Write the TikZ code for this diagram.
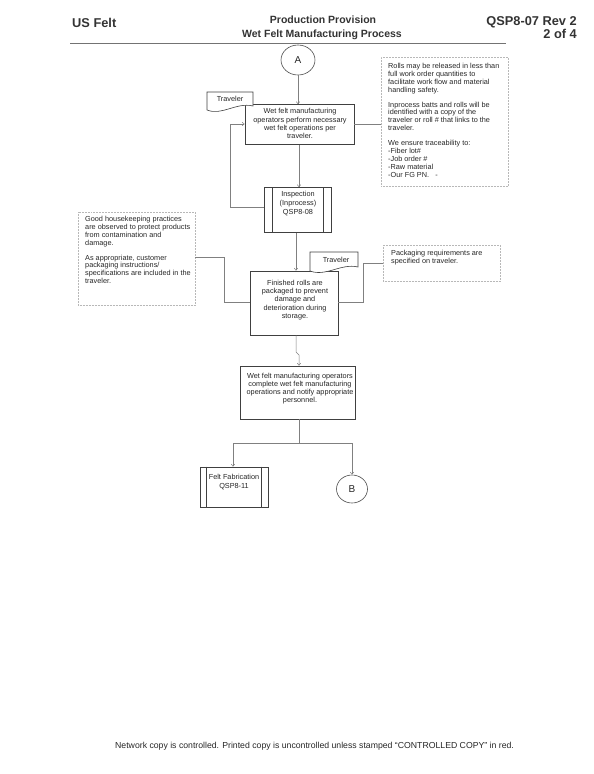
\documentclass[tikz,border=0pt]{standalone}
\usepackage{fontspec}
\setmainfont{Liberation Sans}
\usetikzlibrary{shapes.geometric,arrows.meta,calc}
\begin{document}
\tikzset{
  box/.style={draw=black!75, line width=0.6pt, fill=white, inner sep=0pt},
  conn/.style={draw=black!50, line width=0.5pt},
  arr/.style={conn, -{Straight Barb[length=2.2pt,width=3.6pt]}},
  note/.style={draw=black!28, densely dotted, line width=0.5pt, inner sep=0pt},
  btxt/.style={font=\fontsize{7.3}{8.2}\selectfont, align=center, text=black!85, inner sep=0pt},
  ntxt/.style={font=\fontsize{7.3}{7.9}\selectfont, align=left, text=black!85, inner sep=0pt, anchor=north west},
  circ/.style={ellipse, draw=black!70, line width=0.6pt, inner sep=0pt, font=\fontsize{10}{12}\selectfont, text=black!85},
  docshape/.style={draw=black!75, line width=0.6pt, fill=white},
  hdr/.style={font=\fontsize{10.5}{12}\selectfont\bfseries, text=black!80, inner sep=0pt},
  hdrbig/.style={font=\fontsize{12.8}{14}\selectfont\bfseries, text=black!80, inner sep=0pt},
}
\begin{tikzpicture}[x=1pt,y=-1pt]
\useasboundingbox (0,0) rectangle (594,774);
% header
\node[hdrbig, anchor=base west] (hdrL) at (72,27) {US Felt};
\node[hdr, anchor=base] (hdrC1) at (323,23) {Production Provision};
\node[hdr, anchor=base] (hdrC2) at (322,37) {Wet Felt Manufacturing Process};
\node[hdrbig, anchor=base east] (hdrR1) at (577,25) {QSP8-07 Rev 2};
\node[hdrbig, anchor=base east] (hdrR2) at (577,38) {2 of 4};
\coordinate (ruleL) at (70,43.5);
\coordinate (ruleR) at (506,43.5);
\draw[black!55, line width=1.3pt] (ruleL) -- (ruleR);

% flow nodes
\node[circ, minimum width=34pt, minimum height=30pt] (A) at (298,60) {A};
\node[box, minimum width=109pt, minimum height=40pt] (box1) at (299.5,124.5) {};
\node[btxt] (box1t) at (300,123.5) {Wet felt manufacturing\\operators perform necessary\\wet felt operations per\\traveler.};
\draw[docshape] (207,92) -- (253,92) -- (253,106) .. controls (236,102) and (222,116) .. (207,110) -- cycle;
\node[btxt] (trav1) at (230,99) {Traveler};

\node[box, minimum width=67pt, minimum height=45pt] (insp) at (297.5,210) {};
\draw[box] ([xshift=9pt]insp.north west) -- ([xshift=9pt]insp.south west);
\draw[box] ([xshift=-8pt]insp.north east) -- ([xshift=-8pt]insp.south east);
\node[btxt, font=\fontsize{7.3}{9}\selectfont] (inspt) at (298,204) {Inspection\\(Inprocess)\\QSP8-08};

\node[box, minimum width=88pt, minimum height=64pt] (pack) at (294,303) {};
\node[btxt] (packt) at (295,300) {Finished rolls are\\packaged to prevent\\damage and\\deterioration during\\storage.};
\draw[docshape] (310,252) -- (358,252) -- (358,267) .. controls (341,263) and (326,277) .. (310,271) -- cycle;
\node[btxt] (trav2) at (336,260) {Traveler};

\node[box, minimum width=115pt, minimum height=53pt] (box3) at (297.5,392.5) {};
\node[btxt] (box3t) at (300,388.5) {Wet felt manufacturing operators\\complete wet felt manufacturing\\operations and notify appropriate\\personnel.};

\node[box, minimum width=68pt, minimum height=40pt] (fab) at (234,487) {};
\draw[box] ([xshift=7pt]fab.north west) -- ([xshift=7pt]fab.south west);
\draw[box] ([xshift=-7pt]fab.north east) -- ([xshift=-7pt]fab.south east);
\node[btxt, font=\fontsize{7.3}{9}\selectfont] (fabt) at (234,482.5) {Felt Fabrication\\QSP8-11};

\node[circ, minimum width=31pt, minimum height=28pt] (B) at (352,489) {B};

% notes
\node[note, minimum width=127pt, minimum height=129pt] (n1) at (444.5,121.5) {};
\node[ntxt] (n1t) at (388,63) {Rolls may be released in less than\\full work order quantities to\\facilitate work flow and material\\handling safety.\\[7pt]Inprocess batts and rolls will be\\identified with a copy of the\\traveler or roll \# that links to the\\traveler.\\[7pt]We ensure traceability to:\\-Fiber lot\#\\-Job order \#\\-Raw material\\-Our FG PN.\ \ \ -};
\node[note, minimum width=117pt, minimum height=93pt] (nL) at (136.5,258.5) {};
\node[ntxt] (nLt) at (85,216) {Good housekeeping practices\\are observed to protect products\\from contamination and\\damage.\\[7pt]As appropriate, customer\\packaging instructions/\\specifications are included in the\\traveler.};
\node[note, minimum width=117pt, minimum height=36pt] (n2) at (441.5,263) {};
\node[ntxt] (n2t) at (391,250) {Packaging requirements are\\specified on traveler.};

% connectors
\draw[arr] (A.south) -- (A.south |- box1.north);
\coordinate (x1) at (299,0);
\draw[arr] (box1.south -| x1) -- (insp.north -| x1);
\coordinate (lpB) at (230,207);
\coordinate (lpT) at (230,124);
\draw[arr] (insp.west |- lpB) -- (lpB) -- (lpT) -- (lpT -| box1.west);
\draw[conn] (box1.east) -- (n1.west |- box1.east);
\coordinate (x2) at (296,0);
\draw[arr] (insp.south -| x2) -- (pack.north -| x2);
\coordinate (lL) at (224,257);
\coordinate (lL2) at (224,302);
\draw[conn] (nL.east |- lL) -- (lL) -- (lL2) -- (lL2 -| pack.west);
\coordinate (lR) at (363,263);
\coordinate (lR2) at (363,302);
\draw[conn] (n2.west |- lR) -- (lR) -- (lR2) -- (lR2 -| pack.east);
\coordinate (j1) at (296,352);
\coordinate (j2) at (299,355);
\draw[arr] (pack.south -| j1) -- (j1) -- (j2) -- (box3.north -| j2);
\coordinate (sp) at (299,443);
\coordinate (spL) at (233,443);
\coordinate (spR) at (352,443);
\draw[conn] (box3.south -| sp) -- (sp);
\draw[arr] (sp) -- (spL) -- (fab.north -| spL);
\draw[arr] (sp) -- (spR) -- (B.north);

% footer
\node[anchor=base west, font=\fontsize{8.7}{10}\selectfont, text=black!85, inner sep=0pt] (foot) at (115,748) {Network copy is controlled. Printed copy is uncontrolled unless stamped “CONTROLLED COPY” in red.};
\end{tikzpicture}
\end{document}
